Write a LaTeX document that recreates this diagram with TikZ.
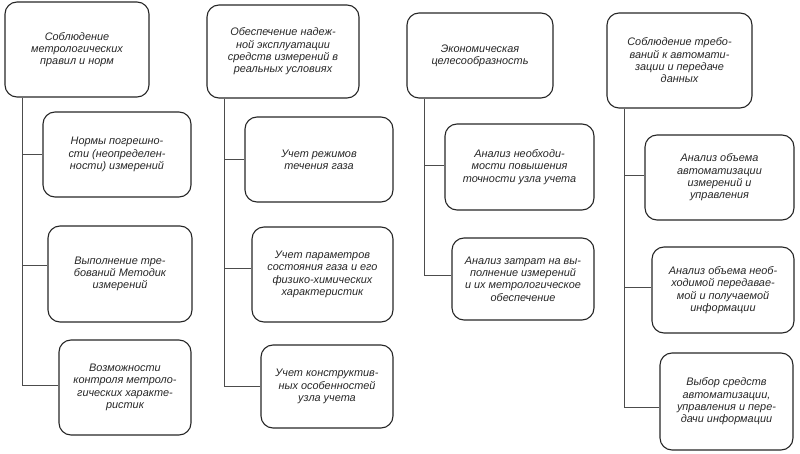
\documentclass[tikz,border=0pt]{standalone}
\usepackage{fontspec}
\setmainfont{Liberation Sans}
\begin{document}
\begin{tikzpicture}[x=1pt,y=-1pt,
  box/.style={draw=black!85, line width=1.1pt, rounded corners=12pt, inner sep=0pt,
    align=center, font=\fontsize{10.9}{12.3}\selectfont\itshape, text=black!85},
  conn/.style={draw=black!70, line width=0.8pt}]
\useasboundingbox (0,0) rectangle (800,454);
% column 1
\node[box, minimum width=144pt, minimum height=95pt] (t1) at (77,49.5) {Соблюдение\\метрологических\\правил и норм};
\node[box, minimum width=148pt, minimum height=85pt] (a1) at (117,154.5) {Нормы погрешно-\\сти (неопределен-\\ности) измерений};
\node[box, minimum width=144pt, minimum height=96pt] (a2) at (120,274) {Выполнение тре-\\бований Методик\\измерений};
\node[box, minimum width=132pt, minimum height=95pt] (a3) at (125,387.5) {Возможности\\контроля метроло-\\гических характе-\\ристик};
% column 2
\node[box, minimum width=152pt, minimum height=93pt] (t2) at (283,51.5) {Обеспечение надеж-\\ной эксплуатации\\средств измерений в\\реальных условиях};
\node[box, minimum width=148pt, minimum height=85pt] (b1) at (319,159.5) {Учет режимов\\течения газа};
\node[box, minimum width=141pt, minimum height=95pt] (b2) at (322.5,274.5) {Учет параметров\\состояния газа и его\\физико-химических\\характеристик};
\node[box, minimum width=132pt, minimum height=83pt] (b3) at (327,386.5) {Учет конструктив-\\ных особенностей\\узла учета};
% column 3
\node[box, minimum width=146pt, minimum height=85pt] (t3) at (480,55.5) {Экономическая\\целесообразность};
\node[box, minimum width=149pt, minimum height=86pt] (c1) at (519.5,167) {Анализ необходи-\\мости повышения\\точности узла учета};
\node[box, minimum width=142pt, minimum height=82pt] (c2) at (523,279) {Анализ затрат на вы-\\полнение измерений\\и их метрологическое\\обеспечение};
% column 4
\node[box, minimum width=145pt, minimum height=95pt] (t4) at (679.5,60.5) {Соблюдение требо-\\ваний к автомати-\\зации и передаче\\данных};
\node[box, minimum width=149pt, minimum height=85pt] (d1) at (719.5,177.5) {Анализ объема\\автоматизации\\измерений и\\управления};
\node[box, minimum width=142pt, minimum height=86pt] (d2) at (723,290) {Анализ объема необ-\\ходимой передавае-\\мой и получаемой\\информации};
\node[box, minimum width=133pt, minimum height=97pt] (d3) at (726.5,401.5) {Выбор средств\\автоматизации,\\управления и пере-\\дачи информации};
% connector spines
\coordinate (v1) at (22,0);
\coordinate (v2) at (224,0);
\coordinate (v3) at (424,0);
\coordinate (v4) at (624,0);
\draw[conn] (t1.south -| v1) |- (a1.west);
\draw[conn] (t1.south -| v1) |- ([yshift=9pt]a2.west);
\draw[conn] (t1.south -| v1) |- ([yshift=2.5pt]a3.west);
\draw[conn] (t2.south -| v2) |- (b1.west);
\draw[conn] (t2.south -| v2) |- ([yshift=6pt]b2.west);
\draw[conn] (t2.south -| v2) |- (b3.west);
\draw[conn] (t3.south -| v3) |- ([yshift=2pt]c1.west);
\draw[conn] (t3.south -| v3) |- ([yshift=4pt]c2.west);
\draw[conn] (t4.south -| v4) |- ([yshift=2.5pt]d1.west);
\draw[conn] (t4.south -| v4) |- ([yshift=3pt]d2.west);
\draw[conn] (t4.south -| v4) |- ([yshift=-5.5pt]d3.west);
\end{tikzpicture}
\end{document}
